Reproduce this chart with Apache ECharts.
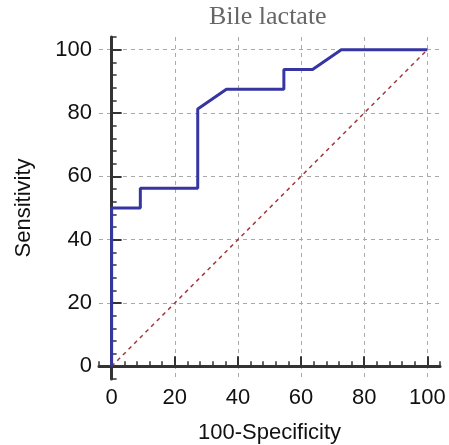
<!DOCTYPE html>
<html>
<head>
<meta charset="utf-8">
<script src="https://cdn.jsdelivr.net/npm/echarts@6/dist/echarts.min.js"></script>
<style>
  html, body { margin: 0; padding: 0; background: #fff; }
  #chart { width: 449px; height: 445px; }
</style>
</head>
<body>
<div id="chart"></div>
<script>
// ROC curve for bile lactate (100-Specificity, Sensitivity)
const fpr = [0, 0, 9.09, 9.09, 27.27, 27.27, 36.36, 54.55, 54.55, 63.64, 72.73, 100]
const tpr = [0, 50, 50, 56.25, 56.25, 81.25, 87.5, 87.5, 93.75, 93.75, 100, 100]
const diagX = [0, 100]
const diagY = [0, 100]
const majorTicks = [0, 20, 40, 60, 80, 100]

const chart = echarts.init(document.getElementById('chart'))

const font = 'Liberation Sans, Arial, sans-serif'

// axis with line + minor ticks
const frameAxis = {
  type: 'value',
  min: -4,
  max: 104,
  interval: 4,
  axisLine: { show: true, lineStyle: { color: '#333', width: 3 } },
  axisTick: { show: true, inside: true, length: 5, lineStyle: { color: '#333', width: 1.5 } },
  axisLabel: { show: false },
  splitLine: { show: false }
}
// axis with major ticks, labels and dashed grid
const majorAxis = {
  type: 'value',
  min: -4,
  max: 104,
  axisLine: { show: false },
  axisTick: { show: true, inside: true, length: 10, customValues: majorTicks, lineStyle: { color: '#333', width: 2 } },
  axisLabel: { show: true, customValues: majorTicks, color: '#111', fontSize: 22, fontFamily: font },
  splitLine: { show: true, lineStyle: { color: '#aaa', type: [4, 4], width: 1 } }
}

const option = {
  animation: false,
  title: {
    text: 'Bile lactate',
    left: 209,
    top: 4,
    padding: 0,
    textStyle: { fontFamily: 'Liberation Serif, Times New Roman, serif', fontSize: 26, fontWeight: 'normal', color: '#666' }
  },
  grid: { left: 99, right: 9, top: 37, bottom: 66, outerBoundsMode: 'none' },
  xAxis: [
    Object.assign({}, frameAxis, { position: 'bottom' }),
    Object.assign({}, majorAxis, {
      position: 'bottom',
      name: '100-Specificity',
      nameLocation: 'middle',
      nameGap: 43,
      nameTextStyle: { fontSize: 22, fontFamily: font, color: '#111' },
      axisLabel: Object.assign({}, majorAxis.axisLabel, { margin: 8 })
    })
  ],
  yAxis: [
    Object.assign({}, frameAxis, { position: 'left' }),
    Object.assign({}, majorAxis, {
      position: 'left',
      name: 'Sensitivity',
      nameLocation: 'middle',
      nameGap: 64,
      nameTextStyle: { fontSize: 22, fontFamily: font, color: '#111' },
      axisLabel: Object.assign({}, majorAxis.axisLabel, { margin: 7 })
    })
  ],
  series: [
    {
      type: 'line',
      xAxisIndex: 0,
      yAxisIndex: 0,
      data: diagX.map((x, i) => [x, diagY[i]]),
      showSymbol: false,
      lineStyle: { color: '#a03a3a', width: 1.5, type: [4, 4] },
      z: 3
    },
    {
      type: 'line',
      xAxisIndex: 0,
      yAxisIndex: 0,
      data: fpr.map((x, i) => [x, tpr[i]]),
      showSymbol: false,
      lineStyle: { color: '#3636a3', width: 3 },
      z: 4
    }
  ]
}

chart.setOption(option)
</script>
</body>
</html>
